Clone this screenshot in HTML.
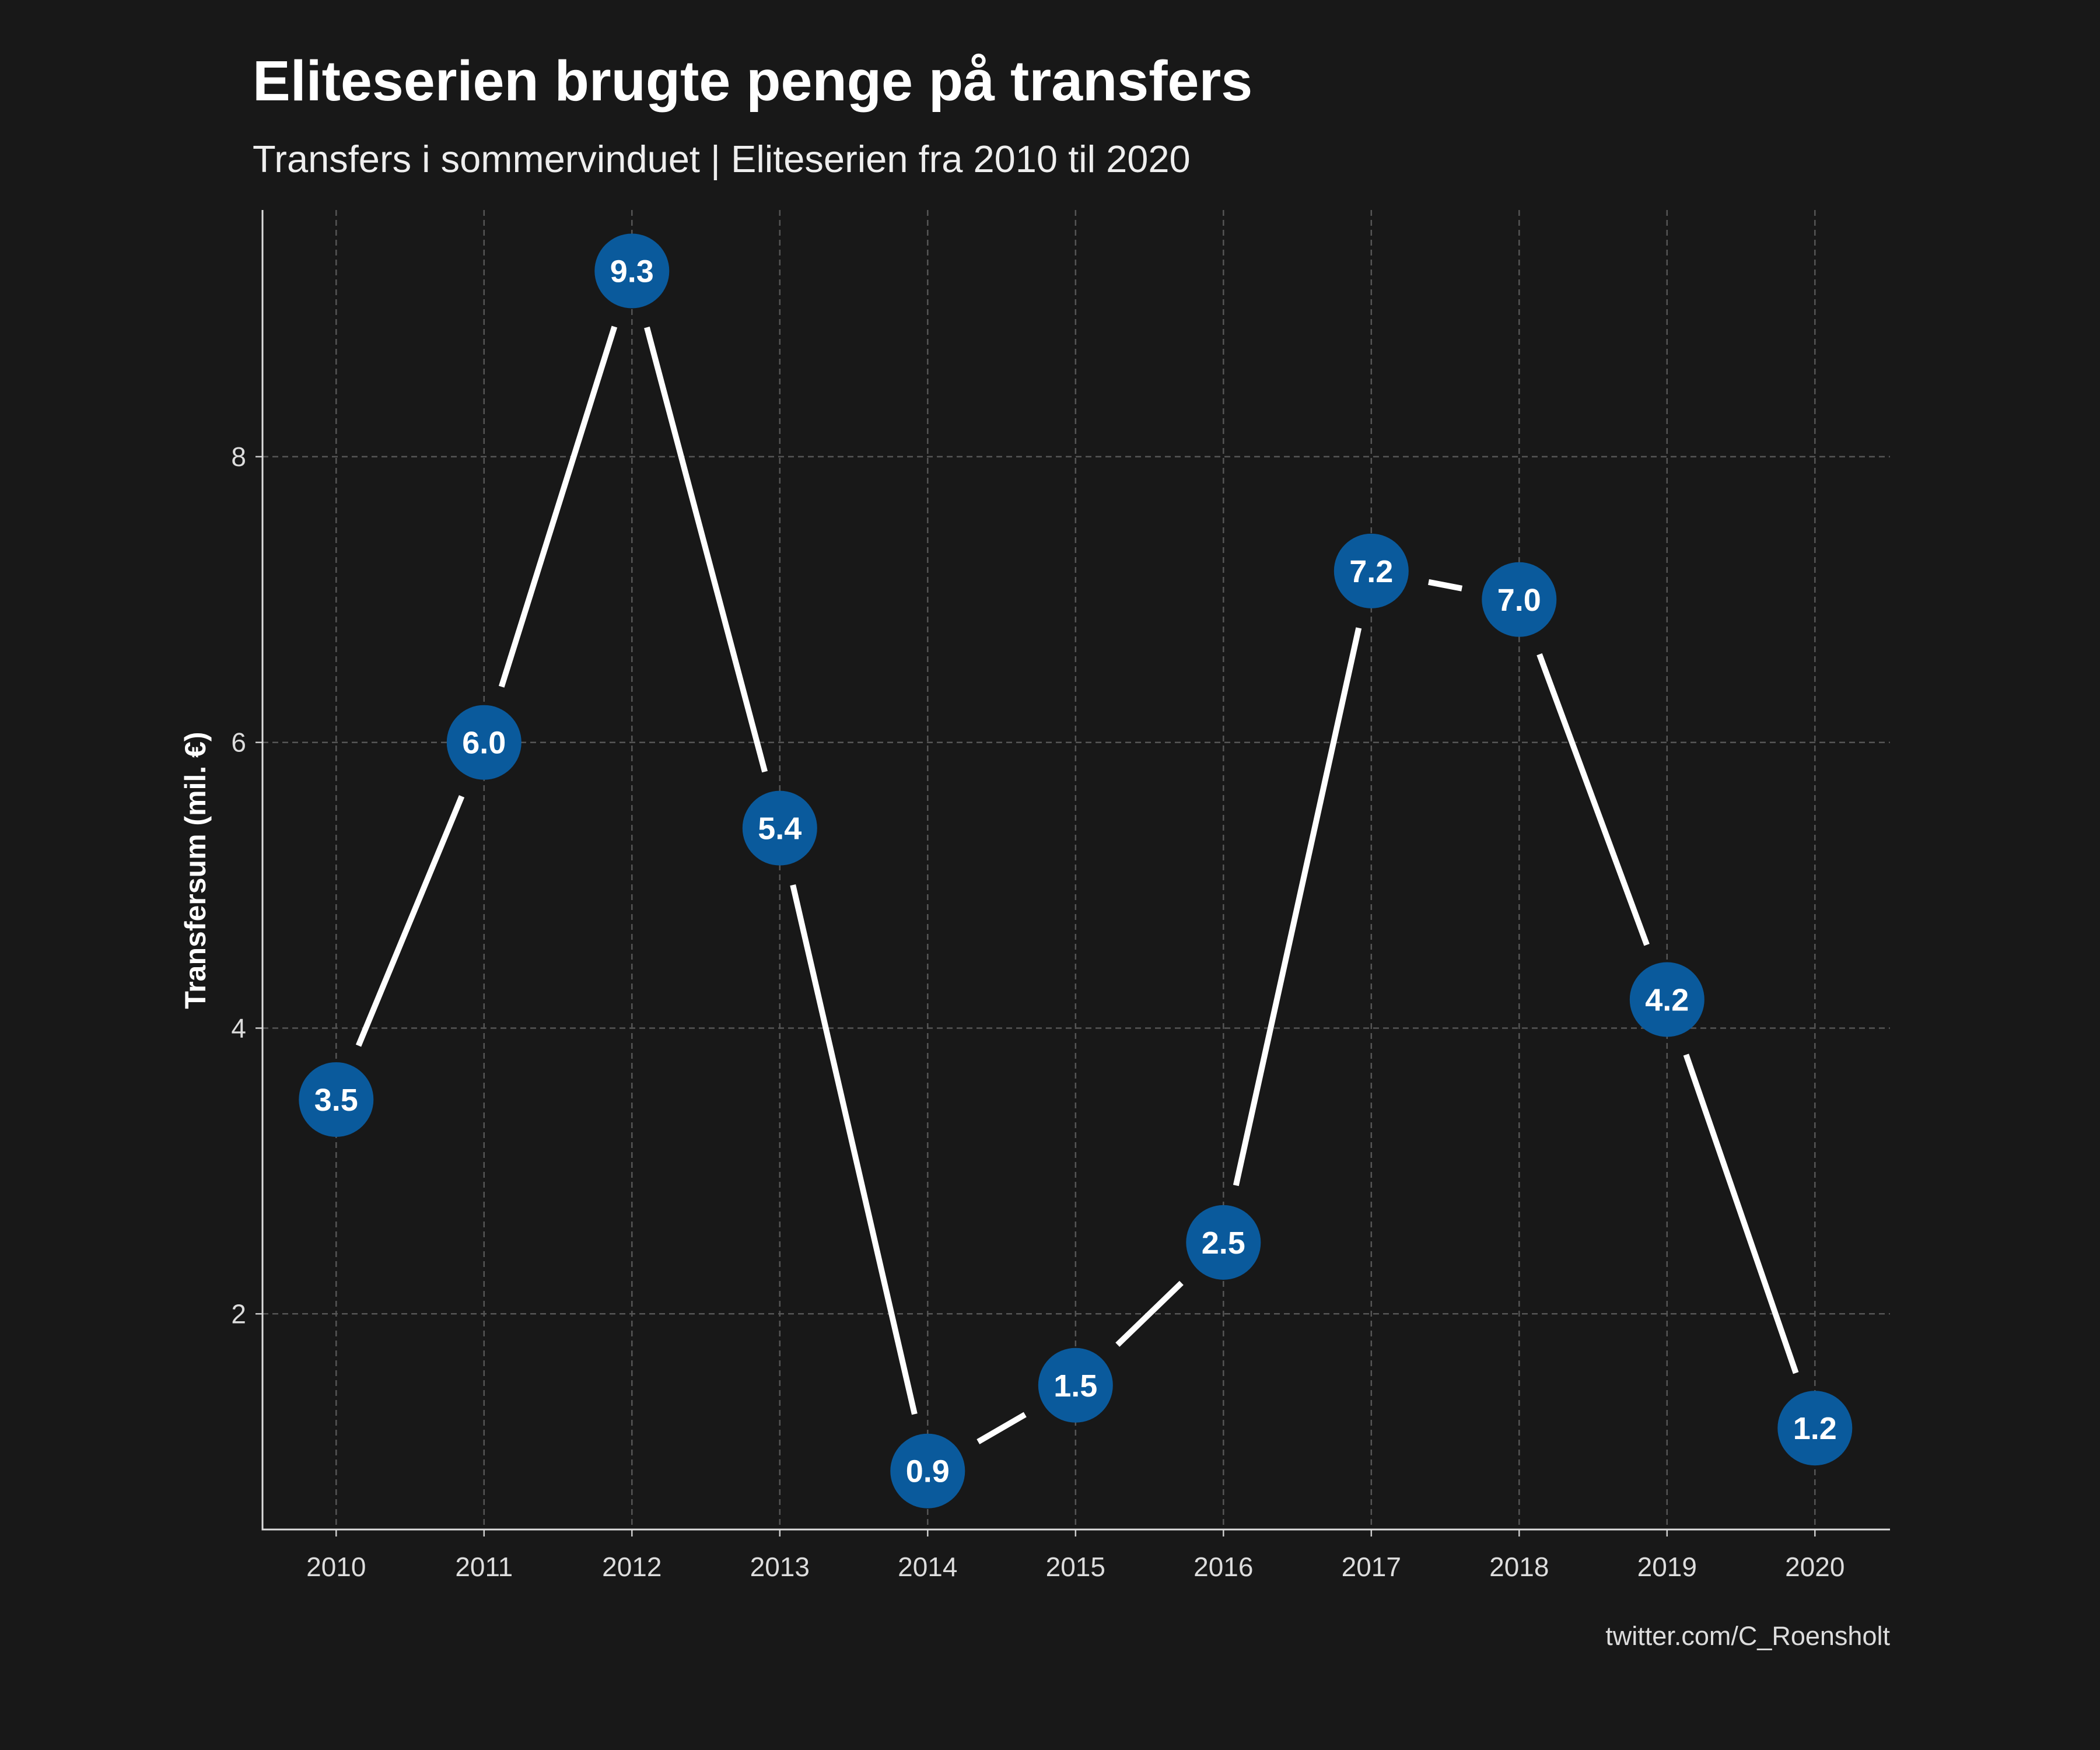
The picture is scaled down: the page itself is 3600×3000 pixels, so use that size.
<!DOCTYPE html>
<html><head><meta charset="utf-8"><style>
html,body{margin:0;padding:0;background:#181818;}
svg{display:block;}
text{font-family:"Liberation Sans",sans-serif;}
</style></head><body>
<svg id="chart" width="3600" height="3000" viewBox="0 0 3600 3000">
<rect width="3600" height="3000" fill="#181818"/>
<text x="433" y="172" font-size="97" font-weight="bold" fill="#fff">Eliteserien brugte penge på transfers</text>
<text x="433" y="295" font-size="65" fill="#eee">Transfers i sommervinduet | Eliteserien fra 2010 til 2020</text>
<g id="grid"></g>
<g id="axes"></g>
<g id="lines"></g>
<g id="points"></g>
<text x="3240" y="2820" font-size="45" fill="#ddd" text-anchor="end">twitter.com/C_Roensholt</text>
<text transform="translate(352,1492) rotate(-90)" font-size="50" font-weight="bold" fill="#fff" text-anchor="middle">Transfersum (mil. €)</text>
</svg>
<script>
const years = [2010,2011,2012,2013,2014,2015,2016,2017,2018,2019,2020];
const values = [3.5,6.0,9.3,5.4,0.9,1.5,2.5,7.2,7.0,4.2,1.2];
const yTicks = [2,4,6,8];

const NS="http://www.w3.org/2000/svg";
const L=450,R=3240,T=360,B=2622;
function xs(i){return 576.3+(i)*253.5;}
function ys(v){return 2742.1-v*244.9;}
function mk(tag,attrs,parent){const e=document.createElementNS(NS,tag);for(const k in attrs)e.setAttribute(k,attrs[k]);parent.appendChild(e);return e;}
const grid=document.getElementById('grid'),axes=document.getElementById('axes'),lines=document.getElementById('lines'),pts=document.getElementById('points');

yTicks.forEach(t=>{
  const g=mk('line',{x1:L,x2:R,y1:ys(t),y2:ys(t),stroke:'#555','stroke-width':2.5,'stroke-dasharray':'10,7'},grid);
  
  
  const tl=mk('line',{x1:L-12,x2:L,y1:ys(t),y2:ys(t),stroke:'#ccc','stroke-width':2.5},axes);
  
  
  const tx=mk('text',{x:L-28,y:ys(t)+16,'font-size':46,fill:'#ddd','text-anchor':'end'},axes);
  tx.textContent=t;
  
  
});
years.forEach((y,i)=>{
  const g=mk('line',{x1:xs(i),x2:xs(i),y1:T,y2:B,stroke:'#555','stroke-width':2.5,'stroke-dasharray':'10,7'},grid);
  
  
  const tl=mk('line',{x1:xs(i),x2:xs(i),y1:B,y2:B+12,stroke:'#ccc','stroke-width':2.5},axes);
  
  
  const tx=mk('text',{x:xs(i),y:B+80,'font-size':46,fill:'#ddd','text-anchor':'middle'},axes);
  tx.textContent=y;
  
  
});
const ax=mk('path',{d:`M${L},${T} L${L},${B} L${R},${B}`,stroke:'#ddd','stroke-width':3,fill:'none'},axes);



const gap=100;
for(let i=0;i<values.length-1;i++){
  const x1=xs(i),y1=ys(values[i]),x2=xs(i+1),y2=ys(values[i+1]);
  const d=Math.hypot(x2-x1,y2-y1);const ux=(x2-x1)/d,uy=(y2-y1)/d;
  if(d<2*gap)continue;
  const s=mk('line',{x1:x1+ux*gap,y1:y1+uy*gap,x2:x2-ux*gap,y2:y2-uy*gap,stroke:'#fff','stroke-width':10},lines);
  
  
}
values.forEach((v,i)=>{
  const c=mk('circle',{cx:xs(i),cy:ys(v),r:64,fill:'#0a5a9c'},pts);
  
  
  const t=mk('text',{x:xs(i),y:ys(v)+19,'font-size':54,'font-weight':'bold',fill:'#fff','text-anchor':'middle'},pts);
  t.textContent=v.toFixed(1);
  
  
});
</script>
</body></html>
